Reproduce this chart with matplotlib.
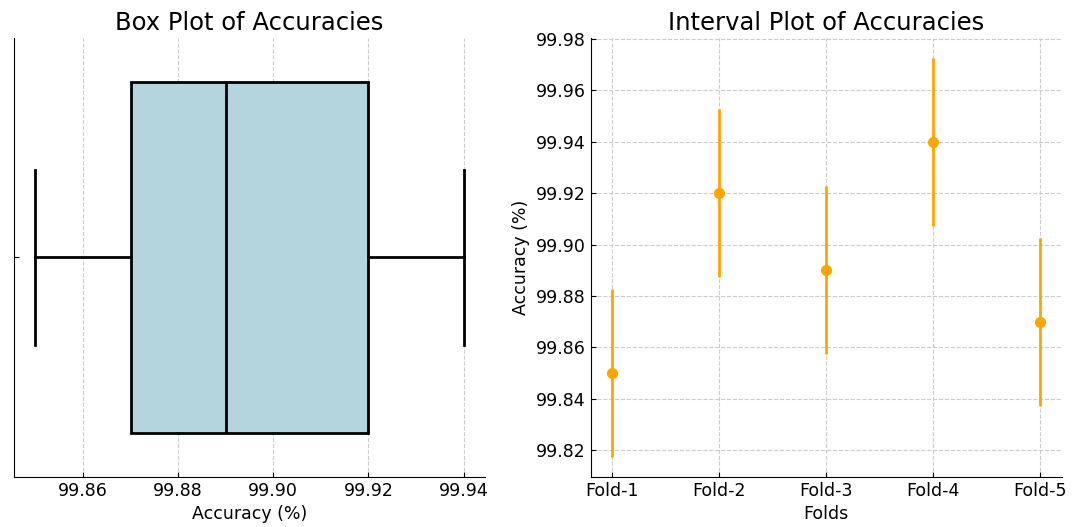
import numpy as np
import matplotlib.pyplot as plt

folds = ['Fold-1', 'Fold-2', 'Fold-3', 'Fold-4', 'Fold-5']
accuracies = [99.85, 99.92, 99.89, 99.94, 99.87]
errors = [0.0326, 0.0326, 0.0326, 0.0326, 0.0326]

plt.rcParams['font.family'] = 'DejaVu Sans'
plt.rcParams['xtick.direction'] = 'in'
plt.rcParams['ytick.direction'] = 'in'

fig = plt.figure(figsize=(10.8, 5.27), dpi=100)
ax1 = fig.add_axes([0.013, 0.095, 0.436, 0.833])
ax2 = fig.add_axes([0.547, 0.095, 0.436, 0.833])

# box plot
bp = ax1.boxplot(accuracies, vert=False, widths=0.8, positions=[0], patch_artist=True,
                 showfliers=False)
for b in bp['boxes']:
    b.set_facecolor('#b4d4de')
    b.set_edgecolor('black')
    b.set_linewidth(2)
for key in ['whiskers', 'caps', 'medians']:
    for ln in bp[key]:
        ln.set_color('black')
        ln.set_linewidth(2)
ax1.set_ylim(0.5, -0.5)
ax1.set_yticks([0])
ax1.set_yticklabels([''])
ax1.set_xticks([99.86, 99.88, 99.90, 99.92, 99.94])
ax1.set_xticklabels(['99.86', '99.88', '99.90', '99.92', '99.94'])
ax1.margins(x=0.05)
ax1.grid(axis='x', linestyle='--', color='#cccccc', linewidth=0.8)
ax1.set_axisbelow(True)
ax1.set_title('Box Plot of Accuracies', fontsize=17.5)
ax1.set_xlabel('Accuracy (%)', fontsize=12.5)
ax1.tick_params(labelsize=12.5)
for s in ['top', 'right']:
    ax1.spines[s].set_visible(False)

# interval plot
x = np.arange(len(folds))
ax2.errorbar(x, accuracies, yerr=errors, fmt='o', color='orange', ecolor='orange',
             elinewidth=2, markersize=7, capsize=0)
ax2.set_xticks(x)
ax2.set_xticklabels(folds)
ax2.grid(True, linestyle='--', color='#cccccc', linewidth=0.8)
ax2.set_axisbelow(True)
ax2.set_title('Interval Plot of Accuracies', fontsize=17.5)
ax2.set_xlabel('Folds', fontsize=12.5)
ax2.set_ylabel('Accuracy (%)', fontsize=12.5)
ax2.tick_params(labelsize=12.5)
for s in ['top', 'right']:
    ax2.spines[s].set_visible(False)

fig.savefig('out.png', dpi=100)
